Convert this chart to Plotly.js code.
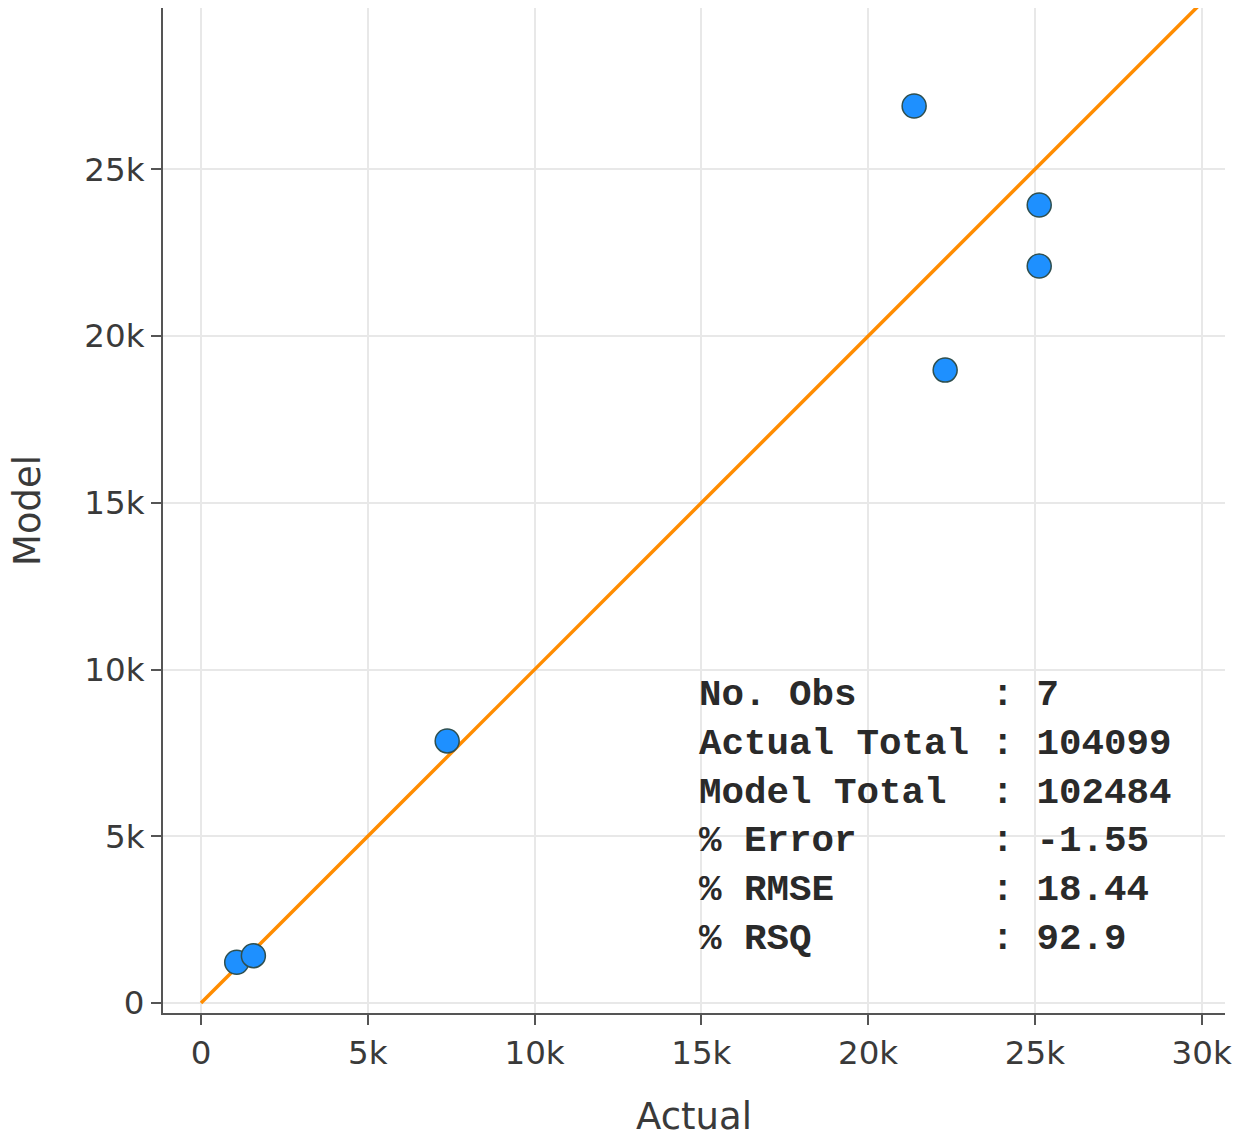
<!DOCTYPE html>
<html>
<head>
<meta charset="utf-8">
<script src="https://cdn.plot.ly/plotly-3.0.1.min.js"></script>
<style>html,body{margin:0;padding:0;background:#fff;}#chart{width:1247px;height:1138px;}</style>
</head>
<body>
<div id="chart"></div>
<script>
const actual = [21380, 25130, 25130, 22310, 7380, 1070, 1570];
const model  = [26900, 23930, 22100, 18980, 7860, 1220, 1420];
// 1:1 reference line
const lineX = [0, 31000];
const lineY = [0, 31000];
// Summary statistics
const statLabels = ["No. Obs", "Actual Total", "Model Total", "% Error", "% RMSE", "% RSQ"];
const statValues = ["7", "104099", "102484", "-1.55", "18.44", "92.9"];

const nb = "\u00a0";
const statText = statLabels.map((l, i) => {
  const pad = nb.repeat(13 - l.length);
  return l.replace(/ /g, nb) + pad + ":" + nb + statValues[i];
}).join("<br>");

const traces = [
  {
    x: lineX, y: lineY, mode: "lines", type: "scatter",
    line: {color: "#FF8C00", width: 3.5},
    hoverinfo: "skip", showlegend: false
  },
  {
    x: actual, y: model, mode: "markers", type: "scatter",
    marker: {color: "#1E90FF", size: 24, line: {color: "#2F4F4F", width: 1.5}},
    showlegend: false
  }
];

const axisCommon = {
  showgrid: true, gridcolor: "#e8e8e8", gridwidth: 2,
  zeroline: false,
  showline: true, linecolor: "#555", linewidth: 2,
  ticks: "outside", ticklen: 10, tickwidth: 2, tickcolor: "#555",
  tickfont: {family: "DejaVu Sans, Verdana, sans-serif", size: 32.5, color: "#3a3a3a"},
  dtick: 5000, tickformat: "~s"
};

const layout = {
  width: 1247, height: 1138,
  margin: {l: 163, r: 22, t: 8, b: 125},
  paper_bgcolor: "#fff", plot_bgcolor: "#fff",
  font: {family: "DejaVu Sans, Verdana, sans-serif", color: "#3a3a3a"},
  xaxis: Object.assign({}, axisCommon, {
    range: [-1140, 30700],
    title: {text: "Actual", font: {size: 37, color: "#3a3a3a"}, standoff: 32}
  }),
  yaxis: Object.assign({}, axisCommon, {
    range: [-300, 29840],
    title: {text: "Model", font: {size: 37, color: "#3a3a3a"}, standoff: 32}
  }),
  annotations: [{
    x: 14880, y: 9920, xref: "x", yref: "y",
    xanchor: "left", yanchor: "top", align: "left",
    showarrow: false,
    text: statText,
    font: {family: "Liberation Mono, Courier New, monospace", size: 37.5, color: "#2a2a2a", weight: "bold"}
  }]
};

Plotly.newPlot("chart", traces, layout, {displayModeBar: false, staticPlot: true});
</script>
</body>
</html>
